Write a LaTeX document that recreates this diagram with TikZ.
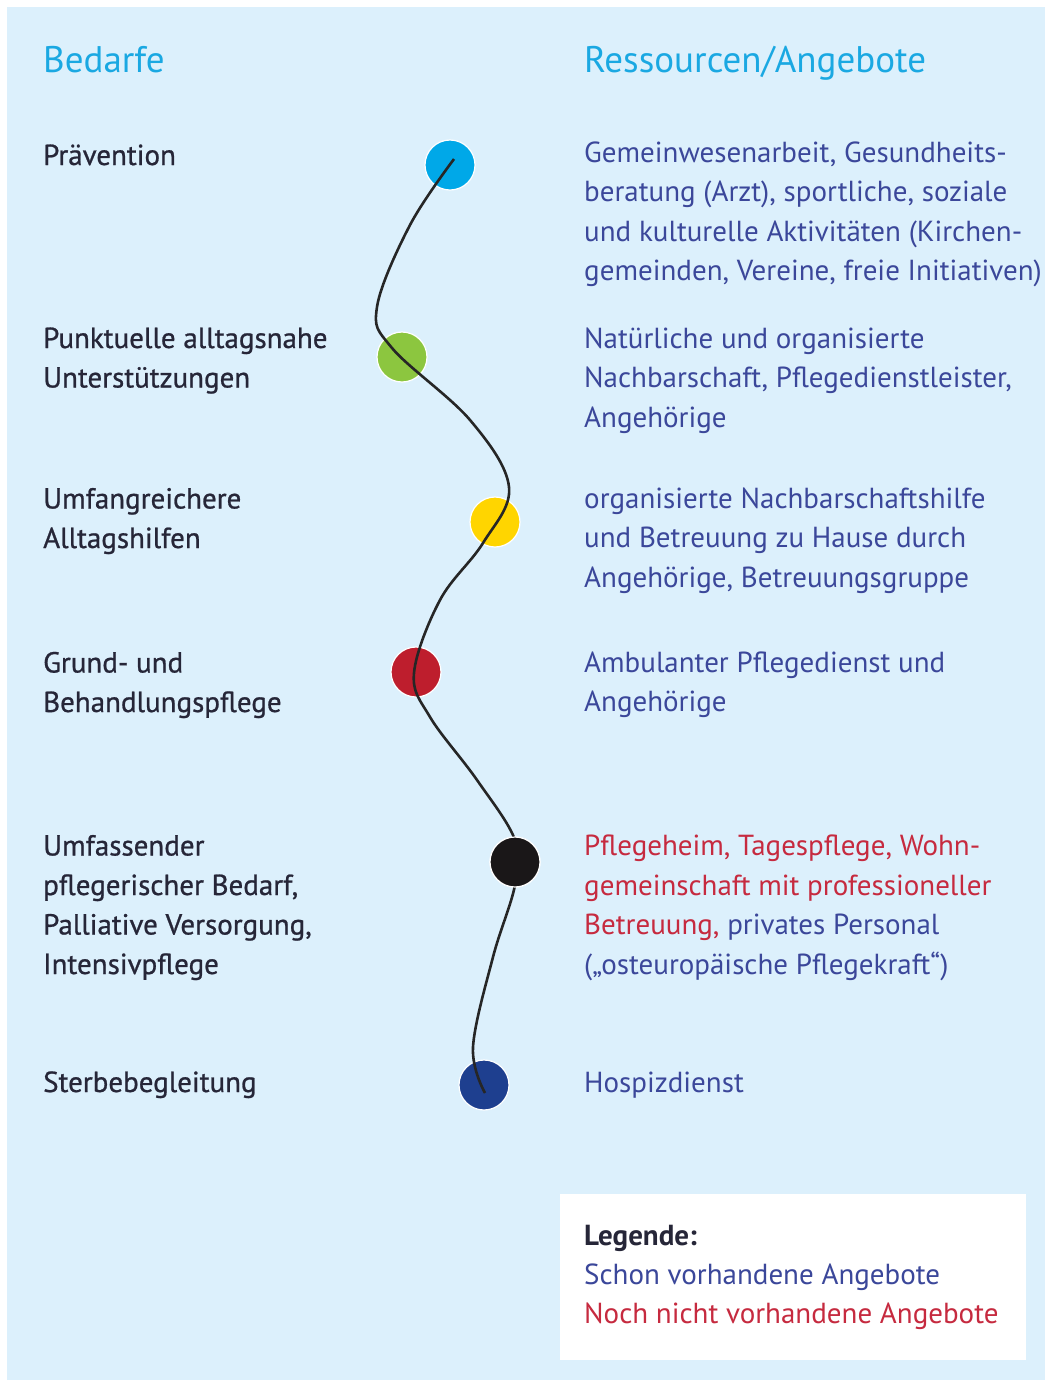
\documentclass[tikz,border=0pt]{standalone}
\usepackage{fontspec}
\setmainfont{PT Sans}
\newfontfamily\needfont{PT Sans}[FakeBold=0.8]
\definecolor{bgblue}{HTML}{DCF0FC}
\definecolor{titleblue}{HTML}{1AA8E2}
\definecolor{labeldark}{HTML}{262638}
\definecolor{offerblue}{HTML}{3B479A}
\definecolor{offerred}{HTML}{C62A3F}
\definecolor{cblue}{HTML}{00A8E8}
\definecolor{cgreen}{HTML}{8CC63F}
\definecolor{cyellow}{HTML}{FFD500}
\definecolor{cred}{HTML}{BE1E2D}
\definecolor{cblack}{HTML}{1A1718}
\definecolor{cnavy}{HTML}{1E3F8F}
\tikzset{
  title/.style={anchor=base west, inner sep=0pt, font=\fontsize{37}{40}\selectfont, text=titleblue},
  need/.style={anchor=base west, inner sep=0pt, align=left, font=\needfont\fontsize{29}{39.5}\selectfont, text=labeldark},
  offer/.style={anchor=base west, inner sep=0pt, align=left, font=\fontsize{29}{39.5}\selectfont, text=offerblue},
  dot/.style={circle, minimum size=50pt, inner sep=0pt, draw=white, line width=1.2pt},
  wave/.style={draw=black!85, line width=2.6pt}
}
\begin{document}
\begin{tikzpicture}[x=1pt,y=-1pt]
\useasboundingbox (0,0) rectangle (1045,1382);
\fill[bgblue] (7,7) rectangle (1045,1380);
% titles
\node[title] (t1) at (43,72) {Bedarfe};
\node[title] (t2) at (584,72) {Ressourcen/Angebote};
% needs (anchor = baseline of last line)
\node[need] (n1) at (43,165) {Prävention};
\node[need] (n2) at (43,387.5) {Punktuelle alltagsnahe\\Unterstützungen};
\node[need] (n3) at (43,548) {Umfangreichere\\Alltagshilfen};
\node[need] (n4) at (43,712) {Grund- und\\Behandlungspflege};
\node[need] (n5) at (43,974) {Umfassender\\pflegerischer Bedarf,\\Palliative Versorgung,\\Intensivpflege};
\node[need] (n6) at (43,1092) {Sterbebegleitung};
% offers
\node[offer] (o1) at (584,280.5) {Gemeinwesenarbeit, Gesundheits-\\beratung (Arzt), sportliche, soziale\\und kulturelle Aktivitäten (Kirchen-\\gemeinden, Vereine, freie Initiativen)};
\node[offer] (o2) at (584,427) {Natürliche und organisierte\\Nachbarschaft, Pflegedienstleister,\\Angehörige};
\node[offer] (o3) at (584,587) {organisierte Nachbarschaftshilfe\\und Betreuung zu Hause durch\\Angehörige, Betreuungsgruppe};
\node[offer] (o4) at (584,711.5) {Ambulanter Pflegedienst und\\Angehörige};
\node[offer] (o5) at (584,974) {\textcolor{offerred}{Pflegeheim, Tagespflege, Wohn-}\\\textcolor{offerred}{gemeinschaft mit professioneller}\\\textcolor{offerred}{Betreuung,} privates Personal\\(„osteuropäische Pflegekraft“)};
\node[offer] (o6) at (584,1092) {Hospizdienst};
% dots
\node[dot, fill=cblue] (d1) at (450,165) {};
\node[dot, fill=cgreen] (d2) at (402,357) {};
\node[dot, fill=cyellow] (d3) at (495,522) {};
\node[dot, fill=cred] (d4) at (416,672) {};
\node[dot, fill=cblack] (d5) at (515,862) {};
\node[dot, fill=cnavy] (d6) at (484,1085) {};
% curve
\coordinate (p0) at (454,159);
\coordinate (p1) at (410,225);
\coordinate (p2) at (377,307);
\coordinate (p3) at (392,348);
\coordinate (p4) at (470,420);
\coordinate (p5) at (509,487);
\coordinate (p6) at (483,543);
\coordinate (p7) at (440,600);
\coordinate (p8) at (414,673);
\coordinate (p9) at (430,717);
\coordinate (p10) at (477,780);
\coordinate (p11) at (515,840);
\coordinate (p12) at (515,885);
\coordinate (p13) at (493,957);
\coordinate (p14) at (473,1047);
\coordinate (p15) at (485,1093);
\draw[wave] plot[smooth, tension=0.6] coordinates {(p0) (p1) (p2) (p3) (p4) (p5) (p6) (p7) (p8) (p9) (p10) (p11) (p12) (p13) (p14) (p15)};
\node[dot, fill=cblack] (d5b) at (515,862) {};
% legend
\fill[white] (560,1194) rectangle (1026,1360);
\node[need, font=\bfseries\fontsize{29}{39.5}\selectfont] (l1) at (584,1245) {Legende:};
\node[offer] (l2) at (584,1284) {Schon vorhandene Angebote};
\node[offer, text=offerred] (l3) at (584,1323) {Noch nicht vorhandene Angebote};
\end{tikzpicture}
\end{document}
